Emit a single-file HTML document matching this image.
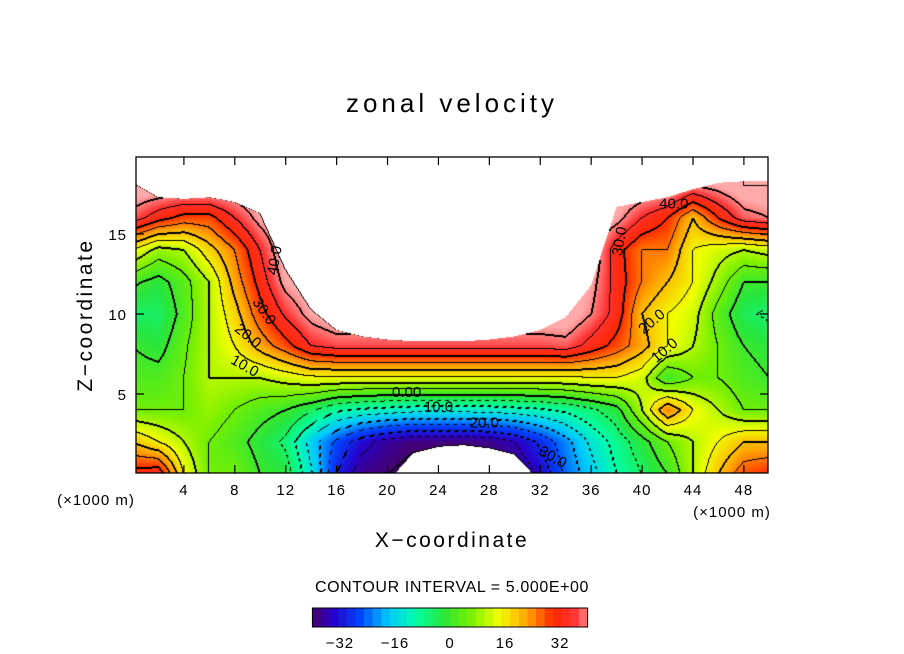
<!DOCTYPE html>
<html><head><meta charset="utf-8"><style>
body{margin:0;background:#fff;}
#wrap{position:relative;width:904px;height:654px;font-family:"Liberation Sans",sans-serif;}
canvas{position:absolute;left:136px;top:157px;}
svg{position:absolute;left:0;top:0;}
text{font-family:"Liberation Sans",sans-serif;fill:#000;}
</style></head><body>
<div id="wrap">
<canvas id="cv" width="632" height="316"></canvas>
<svg id="sv" width="904" height="654"></svg>
</div>
<script>
// grid x = 0,2,...,50 (x1000 m); rows at z = 0,2,...,20
const xGrid = [0,2,4,6,8,10,12,14,16,18,20,22,24,26,28,30,32,34,36,38,40,42,44,46,48,50];
const row_z0  = [32,34,15,5,5,0,-2,-14,-30,-38,-40,-42,-42,-42,-42,-40,-34,-24,-17,-10,-5,0,10,20,28,30];
const row_z2  = [20,15,10,5,2,-2,-6,-17,-26,-33,-37,-39,-39,-39,-38,-35,-29,-22,-14,-8,-2,5,10,15,20,20];
const row_z4  = [5,5,5,8,5,2,0,-4,-9,-11,-12,-13,-13,-13,-13,-12,-11,-9,-6,-2,10,25,15,10,5,5];
const row_z6  = [2,2,5,10,10,10,12,14,14,14,14,14,14,14,14,14,14,14,15,15,12,0,5,5,2,0];
const row_z8  = [0,-2,4,10,15,22,28,35,37,37,37,37,37,37,37,37,37,38,33,28,22,15,10,5,0,-2];
const row_z10 = [-5,-5,2,10,18,28,36,42,45,45,45,45,45,45,45,45,45,45,40,33,20,15,12,3,-4,-6];
const row_z12 = [1,-2,3,10,22,32,42,45,45,45,45,45,45,45,45,45,45,45,42,33,25,20,15,8,0,0];
const row_z14 = [15,8,10,18,25,35,45,45,45,45,45,45,45,45,45,45,45,45,45,32,25,25,15,12,10,12];
const row_z16 = [38,32,28,28,35,42,45,45,45,45,45,45,45,45,45,45,45,45,45,42,35,30,20,30,38,40];
const row_z18 = [45,45,45,45,45,45,45,45,45,45,45,45,45,45,45,45,45,45,45,45,45,45,40,42,45,45];
const row_z20 = [45,45,45,45,45,45,45,45,45,45,45,45,45,45,45,45,45,45,45,45,45,45,45,45,45,45];
// top of data region (above = missing), per xGrid
const topZ  = [18.2,17.3,17.2,17.3,17,16.3,12.8,10.3,9,8.6,8.4,8.3,8.3,8.3,8.4,8.6,9,9.8,11.8,16.7,17,17.3,17.8,18.2,18.3,18.3];
// bottom missing blob height, per xGrid
const blobZ = [0,0,0,0,0,0,0,0,0,0,-0.5,1.3,1.7,1.8,1.6,1.2,-0.5,0,0,0,0,0,0,0,0,0];
const xTicks = [4,8,12,16,20,24,28,32,36,40,44,48];
const zTicks = [5,10,15];
const cbTicks = [-32,-16,0,16,32];
const contourLabels = [["40.0",11.5,13.3,-80],["30.0",10,10,55],["20.0",8.8,8.4,40],["10.0",8.6,6.5,30],["0.00",21.5,4.8,0],["10.0",24,3.9,0],["20.0",27.6,2.9,0],["30.0",32.8,0.8,30],["30.0",38.6,14.5,-80],["20.0",41,9.3,-40],["10.0",42,7.5,-40],["40.0",42.5,16.6,0]];

const rows=[row_z0,row_z2,row_z4,row_z6,row_z8,row_z10,row_z12,row_z14,row_z16,row_z18,row_z20];
const X0=133, SX=12.727, Z0=474, SZ=16;
const xs=x=>X0+x*SX, zs=z=>Z0-z*SZ;
const PL=136,PT=157,PW=632,PH=316;

const stops=[[-40,[70,0,110]],[-34,[40,0,200]],[-26,[0,70,255]],[-18,[0,200,255]],[-10,[0,255,170]],[-2,[40,230,60]],[6,[120,240,0]],[14,[240,255,0]],[22,[255,170,0]],[30,[255,40,0]],[36,[255,50,50]],[42,[255,170,170]]];
function cmap(v){
  if(v<=stops[0][0])return stops[0][1];
  for(let i=1;i<stops.length;i++){if(v<=stops[i][0]){const a=stops[i-1],b=stops[i],t=(v-a[0])/(b[0]-a[0]);return a[1].map((c,k)=>c+(b[1][k]-c)*t);}}
  return stops[stops.length-1][1];
}
function lin(arr,x){let i=Math.min(Math.max(Math.floor(x/2),0),arr.length-2);const t=(x-xGrid[i])/2;return arr[i]*(1-t)+arr[i+1]*t;}
function field(x,z){
  let j=Math.min(Math.max(Math.floor(z/2),0),rows.length-2);const tz=(z-j*2)/2;
  return lin(rows[j],x)*(1-tz)+lin(rows[j+1],x)*tz;
}
const cv=document.getElementById('cv'),ctx=cv.getContext('2d');
const img=ctx.createImageData(PW,PH);
const V=new Float32Array(PW*PH);
for(let py=0;py<PH;py++)for(let px=0;px<PW;px++){
  const x=(PL+px+0.5-X0)/SX, z=(Z0-(PT+py+0.5))/SZ;
  let v=NaN;
  if(z<=lin(topZ,x)&&z>=lin(blobZ,x))v=field(x,z);
  V[py*PW+px]=v;
}
for(let py=0;py<PH;py++)for(let px=0;px<PW;px++){
  const i=py*PW+px,v=V[i];let c=[255,255,255];
  if(!isNaN(v)){
    c=cmap(v);
    const r=px<PW-1?V[i+1]:v,d=py<PH-1?V[i+PW]:v;
    let line=0;
    if(isNaN(r)||isNaN(d))line=2;
    else{
      const l0=Math.floor(v/5);
      for(const w of [r,d]){const l1=Math.floor(w/5);if(l1!==l0){const lev=Math.max(l0,l1)*5;const neg=lev<0;if(neg&&((px+py)>>2)&1)continue;line=Math.max(line,lev%10===0?2:1);}}
      const l=px>0?V[i-1]:v,u=py>0?V[i-PW]:v;
      if(!line&&!isNaN(l)&&!isNaN(u)){for(const w of [l,u]){const l1=Math.floor(w/5);if(l1!==Math.floor(v/5)){const lev=Math.max(l1,Math.floor(v/5))*5;if(lev%10===0&&!(lev<0&&((px+py)>>2)&1))line=2;}}}
    }
    if(line)c=[0,0,0];
  }
  img.data[i*4]=c[0];img.data[i*4+1]=c[1];img.data[i*4+2]=c[2];img.data[i*4+3]=255;
}
ctx.putImageData(img,0,0);

const sv=document.getElementById('sv'),NS='http://www.w3.org/2000/svg';
function mk(tag,at,txt){const e=document.createElementNS(NS,tag);for(const k in at)e.setAttribute(k,at[k]);if(txt!==undefined)e.textContent=txt;sv.appendChild(e);return e;}
let e;
e=mk('rect',{x:PL,y:PT,width:PW,height:PH,fill:'none',stroke:'#000','stroke-width':1.3});


xTicks.forEach(t=>{
  e=mk('path',{d:`M${xs(t)},${PT+PH}v-8M${xs(t)},${PT}v8`,stroke:'#000','stroke-width':1.2});
  
  
  e=mk('text',{x:xs(t),y:495,'font-size':15,'text-anchor':'middle','letter-spacing':1},t);
  
  
});
zTicks.forEach(t=>{
  e=mk('path',{d:`M${PL},${zs(t)}h8M${PL+PW},${zs(t)}h-8`,stroke:'#000','stroke-width':1.2});
  
  
  e=mk('text',{x:127,y:zs(t)+6,'font-size':15,'text-anchor':'end','letter-spacing':1},t);
  
  
});
contourLabels.forEach(c=>{
  e=mk('text',{x:xs(c[1]),y:zs(c[2]),'font-size':15,'text-anchor':'middle',transform:`rotate(${c[3]} ${xs(c[1])} ${zs(c[2])})`},c[0]);
  
  
});
e=mk('text',{x:452,y:112,'font-size':26,'text-anchor':'middle','letter-spacing':4},'zonal velocity');


e=mk('text',{x:92,y:315,'font-size':21,'text-anchor':'middle','letter-spacing':2.5,transform:'rotate(-90 92 315)'},'Z\u2212coordinate');


e=mk('text',{x:452,y:547,'font-size':21,'text-anchor':'middle','letter-spacing':2.5},'X\u2212coordinate');


e=mk('text',{x:96,y:505,'font-size':15,'text-anchor':'middle','letter-spacing':1},'(\u00d71000 m)');


e=mk('text',{x:732,y:517,'font-size':15,'text-anchor':'middle','letter-spacing':1},'(\u00d71000 m)');


e=mk('text',{x:452,y:592,'font-size':16,'text-anchor':'middle','letter-spacing':0.6},'CONTOUR INTERVAL = 5.000E+00');


const cbx=v=>450+v*3.44;
for(let v=-40;v<40;v+=2.5){
  e=mk('rect',{x:cbx(v),y:608,width:2.5*3.44+0.3,height:19,fill:`rgb(${cmap(v+1.25).map(Math.round).join(',')})`});
  
  
}
e=mk('rect',{x:cbx(-40),y:608,width:80*3.44,height:19,fill:'none',stroke:'#000','stroke-width':1});


cbTicks.forEach(t=>{
  e=mk('text',{x:cbx(t),y:648,'font-size':15,'text-anchor':'middle','letter-spacing':1},t<0?'\u2212'+(-t):t);
  
  
});
</script>
</body></html>
